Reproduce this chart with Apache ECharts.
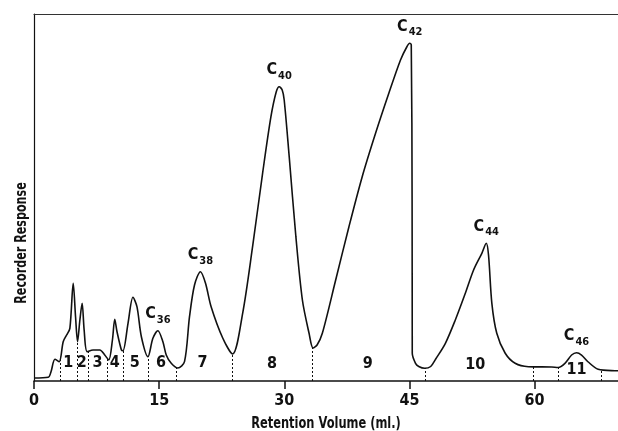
<!DOCTYPE html>
<html>
<head>
<meta charset="utf-8">
<script src="https://cdn.jsdelivr.net/npm/echarts@6/dist/echarts.min.js"></script>
<style>
html,body{margin:0;padding:0;background:#fff;}
#chart{width:618px;height:431px;}
</style>
</head>
<body>
<div id="chart"></div>
<script>
// ---- data ----
const retentionVolume = [0, 1.71, 2.03, 2.51, 3.02, 3.50, 3.91, 4.30, 4.70, 4.98, 5.22, 5.50, 5.77, 6.01, 6.37, 7.08, 7.89, 8.48, 8.96, 9.40, 9.68, 9.95, 10.48, 10.67, 11.27, 11.86, 12.34, 12.87, 13.66, 14.25, 14.85, 15.45, 15.85, 16.45, 17.24, 18.04, 18.64, 19.24, 19.95, 20.55, 21.23, 22.62, 23.81, 25.01, 26.20, 27.40, 28.40, 29.03, 29.39, 29.75, 29.99, 30.59, 31.39, 32.17, 32.97, 33.45, 33.93, 34.56, 36.16, 37.75, 39.34, 40.94, 42.53, 43.93, 44.68, 45.04, 45.22, 45.32, 45.34, 45.73, 46.12, 46.83, 47.55, 48.15, 49.31, 50.50, 51.70, 52.69, 53.68, 54.21, 54.48, 54.88, 55.47, 56.48, 57.67, 59.26, 62.04, 62.84, 63.64, 64.44, 65.03, 65.63, 66.43, 67.62, 69.62, 70];
const recorderResponse = [0.82, 1.01, 2.45, 5.91, 5.26, 10.71, 12.53, 14.36, 26.62, 17.52, 10.71, 16.62, 21.17, 13.90, 7.98, 8.45, 8.45, 7.08, 5.72, 11.17, 16.81, 13.43, 8.45, 8.26, 15.72, 22.81, 20.25, 12.07, 6.62, 11.63, 13.71, 10.71, 7.08, 4.82, 3.54, 5.26, 17.52, 26.16, 29.78, 26.70, 20.25, 11.72, 7.36, 18.45, 36.59, 56.59, 72.02, 78.75, 80.19, 79.29, 76.57, 61.12, 39.32, 22.07, 13.00, 8.99, 9.81, 13.00, 27.52, 42.04, 55.67, 67.49, 78.39, 87.47, 91.01, 92.02, 91.55, 49.32, 7.55, 4.82, 3.95, 3.46, 3.95, 5.99, 10.27, 16.62, 23.90, 30.25, 34.80, 37.52, 34.33, 21.17, 13.00, 7.55, 4.82, 3.90, 3.81, 3.68, 4.82, 7.08, 7.71, 7.08, 5.18, 3.19, 2.81, 2.80];

const xTicks = [0, 15, 30, 45, 60];

const fractionBounds = [3.14, 5.17, 6.49, 8.81, 10.67, 13.66, 17.05, 23.81, 33.37, 46.92, 59.86, 62.84, 68.02];
const fractionNames = ['1','2','3','4','5','6','7','8','9','10','11'];
const fractionLabelX = [4.10, 5.73, 7.61, 9.68, 12.07, 15.21, 20.19, 28.52, 40.02, 52.89, 65.03];
const fractionLabelY = [4.9, 4.9, 4.9, 4.9, 4.9, 4.9, 4.9, 4.8, 4.8, 4.4, 3.0];

const peakNames = ['36', '38', '40', '42', '44', '46'];
const peakVolumes = [14.85, 19.95, 29.39, 45.04, 54.21, 65.03];

const xTitle = 'Retention Volume (ml.)';
const yTitle = 'Recorder Response';

// ---- helpers ----
function interp(x) {
  for (let i = 0; i < retentionVolume.length - 1; i++) {
    const x0 = retentionVolume[i], x1 = retentionVolume[i + 1];
    if (x >= x0 && x <= x1) {
      const t = (x - x0) / (x1 - x0 || 1);
      return recorderResponse[i] + t * (recorderResponse[i + 1] - recorderResponse[i]);
    }
  }
  return 0;
}

const FONT = "'Liberation Sans Narrow', 'DejaVu Sans Condensed', 'Roboto', sans-serif";
const INK = '#111';

const lineData = retentionVolume.map((x, i) => [x, recorderResponse[i]]);

const boundLines = fractionBounds.map(x => [
  { coord: [x, 0] },
  { coord: [x, interp(x)] }
]);

const hidden = { color: 'rgba(0,0,0,0)' };

const fractionPoints = fractionNames.map((n, i) => ({
  coord: [fractionLabelX[i], fractionLabelY[i]],
  symbol: 'circle', symbolSize: 1, itemStyle: hidden,
  label: {
    show: true, position: 'inside', formatter: n,
    fontFamily: FONT, fontWeight: 'bold', fontSize: 16, color: INK
  }
}));

const peakPoints = peakNames.map((n, i) => ({
  coord: [peakVolumes[i], interp(peakVolumes[i])],
  symbol: 'circle', symbolSize: 1, itemStyle: hidden,
  label: {
    show: true, position: 'top', distance: 5,
    formatter: '{c|C}{s|' + n + '}',
    rich: {
      c: { fontFamily: FONT, fontWeight: 'bold', fontSize: 16, color: INK, padding: [0, 1, 3, 0], verticalAlign: 'bottom' },
      s: { fontFamily: FONT, fontWeight: 'bold', fontSize: 11, color: INK, verticalAlign: 'bottom' }
    }
  }
}));

const chart = echarts.init(document.getElementById('chart'), null, { renderer: 'canvas' });

chart.setOption({
  backgroundColor: '#fff',
  animation: false,
  grid: { left: 34, right: 0, top: 14, bottom: 50 },
  xAxis: [{
    type: 'value', min: 0, max: 70, interval: 15,
    axisLine: { show: true, onZero: false, lineStyle: { color: INK, width: 1.5 } },
    axisTick: { show: true, inside: false, length: 8, customValues: xTicks, lineStyle: { color: INK, width: 1.5 } },
    axisLabel: { customValues: xTicks, margin: 12, fontFamily: FONT, fontWeight: 'bold', fontSize: 16, color: INK },
    splitLine: { show: false }
  }, {
    type: 'value', min: 0, max: 70, position: 'top',
    axisLine: { show: true, onZero: false, lineStyle: { color: '#333', width: 1.2 } },
    axisTick: { show: false }, axisLabel: { show: false }, splitLine: { show: false }
  }],
  yAxis: {
    type: 'value', min: 0, max: 100,
    axisLine: { show: true, onZero: false, lineStyle: { color: INK, width: 1.2 } },
    axisTick: { show: false }, axisLabel: { show: false }, splitLine: { show: false }
  },
  graphic: [{
    type: 'text', x: 22, y: 243, rotation: Math.PI / 2, scaleX: 0.8,
    style: {
      text: yTitle, fontFamily: FONT, fontWeight: 'bold', fontSize: 15.5,
      fill: INK, align: 'center', verticalAlign: 'middle'
    }
  }, {
    type: 'text', x: 326, y: 424, scaleX: 0.82,
    style: {
      text: xTitle, fontFamily: FONT, fontWeight: 'bold', fontSize: 15.5,
      fill: INK, align: 'center', verticalAlign: 'middle'
    }
  }],
  series: [{
    type: 'line',
    data: lineData,
    symbol: 'none',
    smooth: 0.3,
    lineStyle: { color: INK, width: 1.6 },
    markLine: {
      silent: true, symbol: ['none', 'none'], animation: false,
      label: { show: false },
      lineStyle: { type: [2, 2], color: INK, width: 1 },
      emphasis: { disabled: true },
      data: boundLines
    },
    markPoint: {
      silent: true, animation: false,
      data: fractionPoints.concat(peakPoints)
    }
  }]
});
</script>
</body>
</html>
